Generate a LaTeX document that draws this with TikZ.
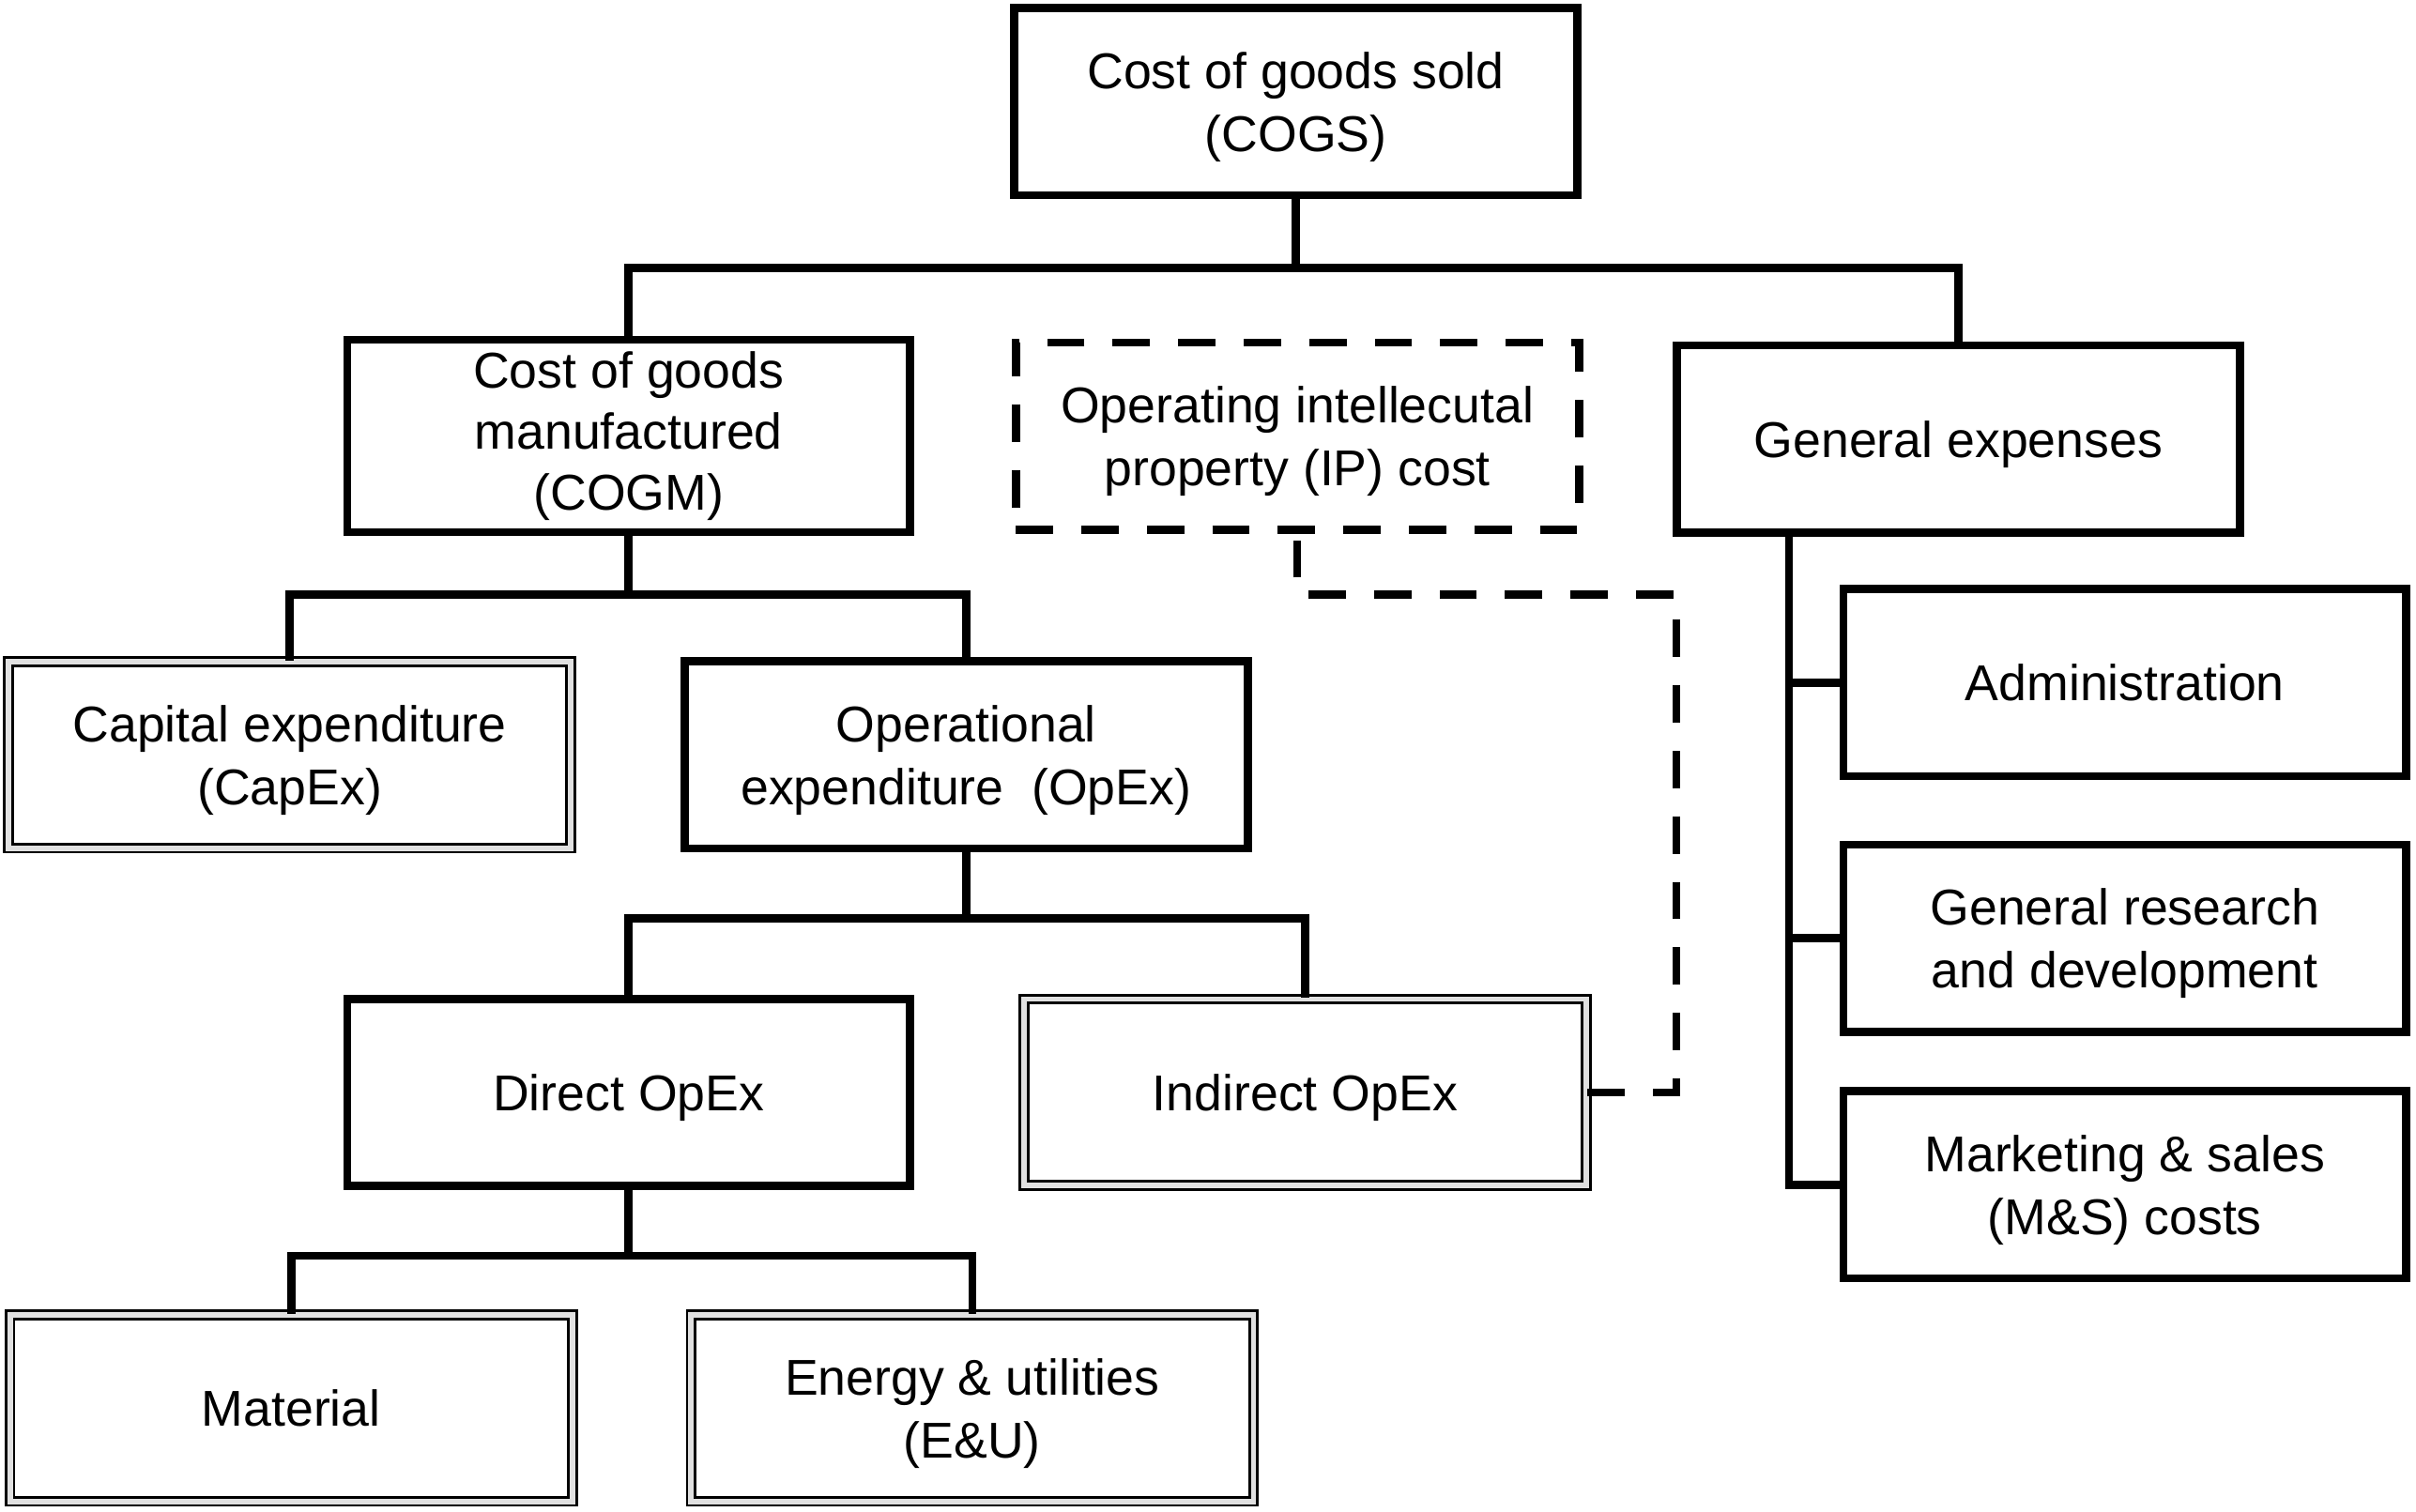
\documentclass[tikz,border=0pt]{standalone}
\usepackage{fontspec}
\setmainfont{Liberation Sans}
\usepackage{tikz}
\usetikzlibrary{positioning}

\begin{document}
\begin{tikzpicture}[x=0.02cm, y=-0.02cm,
  font=\fontsize{18.6}{23.3}\selectfont,
  box/.style={draw, line width=3pt, minimum width=7.31cm, minimum height=2.43cm, align=center, inner sep=0pt, text depth=0pt},
  dblbox/.style={draw, double=black!12, line width=1pt, double distance=2pt, minimum width=7.3cm, minimum height=2.42cm, align=center, inner sep=0pt, text depth=0pt},
  dashbox/.style={box, dash pattern=on 13.8pt off 10.4pt},
  link/.style={line width=3pt},
  dashlink/.style={line width=2.9pt, dash pattern=on 13.8pt off 10.4pt}]

% page size
\useasboundingbox (0,0) rectangle (1568,981);

% top level
\node[box] (cogs) at (841,66) {Cost of goods sold\\(COGS)};

% second level
\node[box, minimum height=2.5cm, text depth=, font=\fontsize{18.6}{22.6}\selectfont] (cogm) at (408,283) {Cost of goods\\manufactured\\(COGM)};
\node[dashbox] (ip) at (842,283) {Operating intellecutal\\property (IP) cost};
\node[box] (genexp) at (1271,285) {General expenses};

% COGM branch
\node[dblbox] (capex) at (188,490) {Capital expenditure\\(CapEx)};
\node[box] (opex) at (627,490) {Operational\\expenditure\ \ (OpEx)};
\node[box] (direct) at (408,709) {Direct OpEx};
\node[dblbox] (indirect) at (847,709) {Indirect OpEx};
\node[dblbox] (material) at (189,914) {Material};
\node[dblbox] (energy) at (631,914) {Energy \& utilities\\(E\&U)};

% general expenses branch
\node[box] (admin) at (1379,443) {Administration};
\node[box] (rnd) at (1379,609) {General research\\and development};
\node[box] (mands) at (1379,769) {Marketing \& sales\\(M\&S) costs};

% bus points
\coordinate (bustop) at (841,174);
\coordinate (buscogm) at (408,386);
\coordinate (busopex) at (627,596);
\coordinate (busdirect) at (408,815);
\coordinate (gtrunk) at (1161,348);
\coordinate (ipcorner) at (1088,386);

% connectors
\draw[link] (cogs.south) -- (bustop);
\draw[link] (cogm.north) |- (bustop) -| (genexp.north);
\draw[link] (cogm.south) -- (buscogm);
\draw[link] (capex.north) |- (buscogm) -| (opex.north);
\draw[link] (opex.south) -- (busopex);
\draw[link] (direct.north) |- (busopex) -| (indirect.north);
\draw[link] (direct.south) -- (busdirect);
\draw[link] (material.north) |- (busdirect) -| (energy.north);
\foreach \child in {admin, rnd, mands}
  \draw[link] (gtrunk) |- (\child.west);

% indirect OpEx takes the IP cost (dashed)
\draw[dashlink] (indirect.east) -| (ipcorner) -| (ip.south);

\end{tikzpicture}
\end{document}
